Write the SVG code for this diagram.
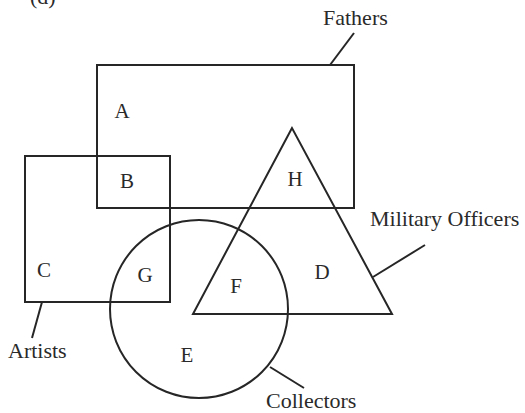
<svg xmlns="http://www.w3.org/2000/svg" width="525" height="413" viewBox="0 0 525 413">
<style>
.s{fill:none;stroke:#262626;stroke-width:2}
.t{font-family:"Liberation Serif","Times New Roman",serif;font-size:22px;fill:#2a2a2a}
.l{font-family:"Liberation Serif","Times New Roman",serif;font-size:21px;fill:#2a2a2a;text-anchor:middle}
</style>
<rect width="525" height="413" fill="#fff"/>
<text class="t" x="30" y="4">(d)</text>
<g id="fathers">
<rect class="s" x="97" y="65" width="257" height="143"/>
<text class="t" x="323" y="25">Fathers</text>
</g>
<g id="artists">
<rect class="s" x="25" y="156" width="145" height="146"/>
<text class="t" x="8" y="358">Artists</text>
</g>
<g id="collectors">
<circle class="s" cx="199" cy="309" r="89"/>
<text class="t" x="266" y="408">Collectors</text>
</g>
<g id="military">
<polygon class="s" points="292,128 193,314 392,314"/>
<text class="t" x="370" y="226">Military Officers</text>
</g>
<g id="regions">
<text class="l" x="122" y="118">A</text>
<text class="l" x="127" y="188">B</text>
<text class="l" x="44" y="277">C</text>
<text class="l" x="322" y="279">D</text>
<text class="l" x="187" y="362">E</text>
<text class="l" x="236" y="293">F</text>
<text class="l" x="145" y="282">G</text>
<text class="l" x="295" y="186">H</text>
</g>
<g id="connectors">
<line class="s" x1="330" y1="65" x2="354" y2="33"/>
<line class="s" x1="42" y1="302" x2="32" y2="338"/>
<line class="s" x1="270" y1="367" x2="304" y2="388"/>
<line class="s" x1="373" y1="277" x2="425" y2="245"/>
</g>
</svg>
